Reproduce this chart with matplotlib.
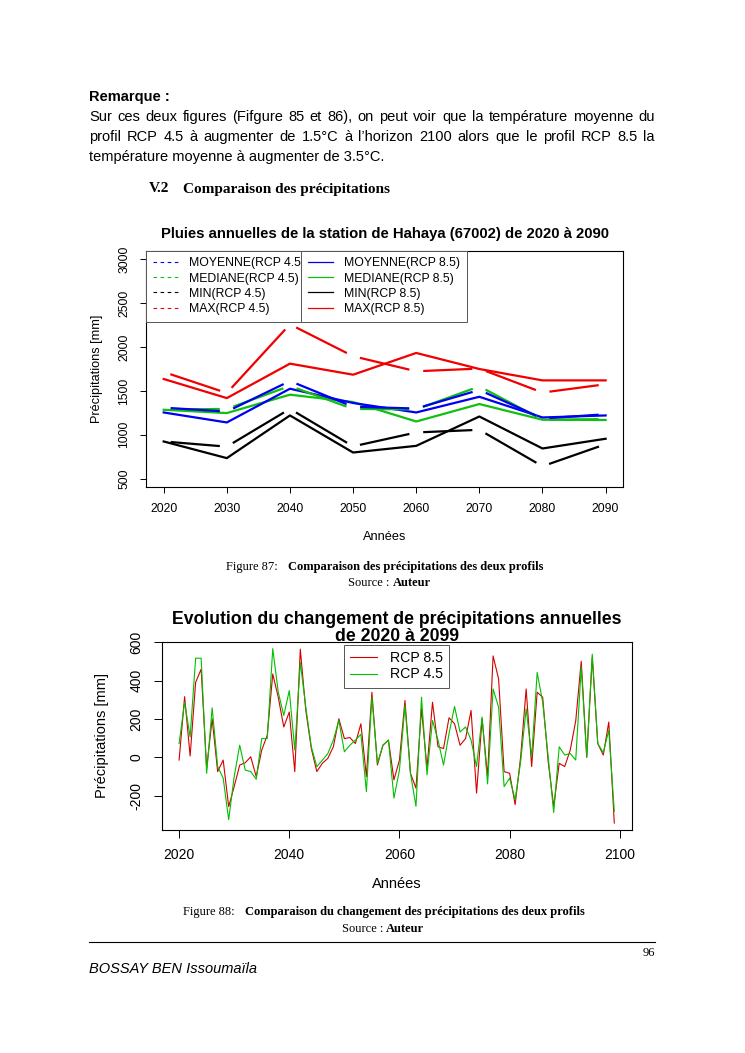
import numpy as np
import matplotlib
matplotlib.use('Agg')
import matplotlib.pyplot as plt
from matplotlib.lines import Line2D

# ---------------- data: chart 1 (decadal) ----------------
years1 = [2020, 2030, 2040, 2050, 2060, 2070, 2080, 2090]
moy45 = [1309, 1264, 1613, 1319, 1299, 1511, 1185, 1234]
med45 = [1289, 1294, 1557, 1294, 1289, 1552, 1171, 1178]
min45 = [923, 864, 1295, 867, 1026, 1056, 640, 892]
max45 = [1716, 1476, 2260, 1896, 1724, 1755, 1481, 1576]
moy85 = [1254, 1140, 1525, 1362, 1254, 1433, 1197, 1220]
med85 = [1285, 1247, 1457, 1373, 1151, 1350, 1171, 1168]
min85 = [923, 733, 1220, 797, 873, 1208, 843, 954]
max85 = [1636, 1418, 1811, 1685, 1933, 1750, 1620, 1620]
yticks1 = [500, 1000, 1500, 2000, 2500, 3000]
labels45 = ['MOYENNE(RCP 4.5', 'MEDIANE(RCP 4.5)', 'MIN(RCP 4.5)', 'MAX(RCP 4.5)']
labels85 = ['MOYENNE(RCP 8.5)', 'MEDIANE(RCP 8.5)', 'MIN(RCP 8.5)', 'MAX(RCP 8.5)']

# ---------------- data: chart 2 (annual change) ----------------
years2 = list(range(2020, 2100))
rcp85 = [-14, 316, 7, 390, 459, -57, 201, -74, -14, -256,
         -152, -40, -28, 3, -100, 38, 115, 434, 313, 158,
         236, -74, 563, 244, 46, -74, -31, -5, 55, 201,
         98, 103, 72, 175, -100, 339, -40, 63, 90, -117,
         -14, 296, -83, -160, 253, -57, 287, 55, 46, 206,
         175, 63, 98, 244, -186, 201, -100, 528, 408, -74,
         -83, -246, 3, 356, -48, 339, 313, -22, -256, -31,
         -48, 38, 190, 500, 0, 520, 72, 12, 184, -342]
rcp45 = [72, 287, 106, 516, 516, -83, 258, -48, -108, -324,
         -100, 63, -66, -74, -114, 98, 98, 566, 339, 218,
         348, 38, 494, 261, 55, -48, -15, 20, 90, 192,
         29, 63, 90, 120, -178, 313, -31, 63, 90, -212,
         -66, 270, -83, -255, 313, -91, 192, 90, -40, 124,
         265, 132, 158, 90, -48, 210, -138, 356, 261, -152,
         -108, -221, -22, 253, 3, 442, 287, 3, -287, 55,
         12, 20, -14, 470, 3, 537, 72, 25, 141, -281]
xticks2 = [2020, 2040, 2060, 2080, 2100]
yticks2 = [-200, 0, 200, 400, 600]

RED1, GREEN1, BLUE1 = '#F00000', '#10C010', '#0000F0'
RED2, GREEN2 = '#D40000', '#00C000'
SANS = 'Liberation Sans'
SERIF = 'Liberation Serif'

W, H = 745, 1053
fig = plt.figure(figsize=(W / 100, H / 100), dpi=100)
fig.patch.set_facecolor('white')


def fx(px):
    return px / W


def fy(py):
    return 1 - py / H


renderer = fig.canvas.get_renderer()


def justify(ypx, text, x0, x1, **kw):
    words = text.split(' ')
    ts = [fig.text(0, fy(ypx), w, va='center', ha='left', **kw) for w in words]
    widths = [t.get_window_extent(renderer).width for t in ts]
    gap = (x1 - x0 - sum(widths)) / (len(words) - 1)
    x = x0
    for t, w in zip(ts, widths):
        t.set_x(fx(x))
        x += w + gap


# ---------------- page text ----------------
fig.text(fx(89), fy(97), 'Remarque :', fontsize=10.5, fontweight='bold', family=SANS, va='center')
justify(117, 'Sur ces deux figures (Fifgure 85 et 86), on peut voir que la température moyenne du',
        89, 655, fontsize=10.5, family=SANS)
justify(137, 'profil RCP 4.5 à augmenter de 1.5°C à l’horizon 2100 alors que le profil RCP 8.5 la',
        89, 655, fontsize=10.5, family=SANS)
fig.text(fx(89), fy(157), 'température moyenne à augmenter de 3.5°C.', fontsize=10.5, family=SANS, va='center')
fig.text(fx(149), fy(189), 'V.2', fontsize=11, fontweight='bold', family=SERIF, va='center')
fig.text(fx(183), fy(189), 'Comparaison des précipitations', fontsize=11, fontweight='bold', family=SERIF, va='center')

fig.text(fx(226), fy(567), 'Figure 87:', fontsize=9, family=SERIF, va='center')
fig.text(fx(288), fy(567), 'Comparaison des précipitations des deux profils', fontsize=9,
         fontweight='bold', family=SERIF, va='center')
fig.text(fx(393), fy(583), 'Source : ', fontsize=9, family=SERIF, va='center', ha='right')
fig.text(fx(393), fy(583), 'Auteur', fontsize=9, fontweight='bold', family=SERIF, va='center', ha='left')

fig.text(fx(183), fy(912), 'Figure 88:', fontsize=9, family=SERIF, va='center')
fig.text(fx(245), fy(912), 'Comparaison du changement des précipitations des deux profils', fontsize=9,
         fontweight='bold', family=SERIF, va='center')
fig.text(fx(386), fy(929), 'Source : ', fontsize=9, family=SERIF, va='center', ha='right')
fig.text(fx(386), fy(929), 'Auteur', fontsize=9, fontweight='bold', family=SERIF, va='center', ha='left')

fig.add_artist(Line2D([fx(89), fx(655)], [fy(942), fy(942)], color='black', lw=0.8))
fig.text(fx(655), fy(953), '96', fontsize=9, family=SERIF, va='center', ha='right')
fig.text(fx(89), fy(969), 'BOSSAY BEN Issoumaïla', fontsize=10.5, style='italic', family=SANS, va='center')

# ---------------- chart 1 ----------------
ax1 = fig.add_axes([fx(146), fy(487.3), (623.3 - 146) / W, (487.3 - 250.7) / H])
ax1.set_xlim(2017.2, 2092.8)
ax1.set_ylim(400, 3100)


def gapped(ax, x, y, gap_px, **kw):
    pts = ax.transData.transform(np.column_stack([x, y]))
    inv = ax.transData.inverted()
    for p0, p1 in zip(pts[:-1], pts[1:]):
        d = p1 - p0
        u = d / np.hypot(*d)
        seg = inv.transform(np.array([p0 + u * gap_px, p1 - u * gap_px]))
        ax.plot(seg[:, 0], seg[:, 1], solid_capstyle='butt', **kw)


LW1 = 1.6
for vals, c in [(max85, RED1), (min85, 'black'), (med85, GREEN1), (moy85, BLUE1)]:
    ax1.plot(years1, vals, color=c, lw=LW1)
for vals, c in [(max45, RED1), (min45, 'black'), (med45, GREEN1), (moy45, BLUE1)]:
    gapped(ax1, years1, vals, 7, color=c, lw=LW1)

for s in ax1.spines.values():
    s.set_linewidth(0.8)
ax1.set_xticks(years1)
ax1.set_yticks(yticks1)
ax1.set_yticklabels([str(v) for v in yticks1], rotation=90, va='center')
ax1.tick_params(axis='both', direction='out', length=4.6, width=0.7, labelsize=8.7, pad=6.5)
for lab in ax1.get_xticklabels() + ax1.get_yticklabels():
    lab.set_family(SANS)
ax1.set_title('Pluies annuelles de la station de Hahaya (67002) de 2020 à 2090', fontsize=10.7,
              fontweight='bold', family=SANS, pad=9.5)
ax1.set_xlabel('Années', fontsize=9.2, family=SANS)
ax1.xaxis.set_label_coords(0.5, -(537 - 487.3) / 236.6)
ax1.xaxis.label.set_va('center')
ax1.set_ylabel('Précipitations [mm]', fontsize=9.2, family=SANS)
ax1.yaxis.set_label_coords((97 - 146) / 477.3, 0.5)
ax1.yaxis.label.set_va('center')

cols = [BLUE1, GREEN1, 'black', RED1]
h45 = [Line2D([], [], color=c, lw=0.8, ls=(0, (3.2, 3.2))) for c in cols]
h85 = [Line2D([], [], color=c, lw=0.9) for c in cols]
legkw = dict(loc='upper left', borderaxespad=0, fancybox=False, framealpha=1, edgecolor='#555555',
             prop={'family': SANS, 'size': 8.8}, handlelength=2.1, handletextpad=0.9,
             labelspacing=0.26, borderpad=0.55)
leg1 = ax1.legend(h45, labels45, bbox_to_anchor=(0, 1), **legkw)
leg1.get_frame().set_linewidth(0.7)
ax1.add_artist(leg1)
leg2 = ax1.legend(h85, labels85, bbox_to_anchor=((301 - 146) / 477.3, 1), **legkw)
leg2.get_frame().set_linewidth(0.7)

# ---------------- chart 2 ----------------
ax2 = fig.add_axes([fx(161.7), fy(830), (631.7 - 161.7) / W, (830 - 641.7) / H])
ax2.set_xlim(2016.84, 2102.16)
ax2.set_ylim(-378, 602)
ax2.plot(years2, rcp85, color=RED2, lw=0.8, label='RCP 8.5')
ax2.plot(years2, rcp45, color=GREEN2, lw=0.8, label='RCP 4.5')
for s in ax2.spines.values():
    s.set_linewidth(0.8)
ax2.set_xticks(xticks2)
ax2.set_yticks(yticks2)
ax2.set_yticklabels([str(v) for v in yticks2], rotation=90, va='center')
ax2.tick_params(axis='both', direction='out', length=6, width=0.7, labelsize=10, pad=7)
for lab in ax2.get_xticklabels() + ax2.get_yticklabels():
    lab.set_family(SANS)
ax2.set_title('Evolution du changement de précipitations annuelles\nde 2020 à 2099', fontsize=12.7,
              fontweight='bold', family=SANS, y=1.0, pad=0.8, linespacing=0.95)
ax2.set_xlabel('Années', fontsize=10.5, family=SANS)
ax2.xaxis.set_label_coords(0.5, -(884 - 830) / 188.3)
ax2.xaxis.label.set_va('center')
ax2.set_ylabel('Précipitations [mm]', fontsize=10.5, family=SANS)
ax2.yaxis.set_label_coords((102 - 161.7) / 470, 0.5)
ax2.yaxis.label.set_va('center')
leg3 = ax2.legend(loc='upper center', bbox_to_anchor=(0.5, 1 - 3.3 / 188.3), borderaxespad=0,
                  fancybox=False, framealpha=1, edgecolor='#555555',
                  prop={'family': SANS, 'size': 10.2}, handlelength=1.9, handletextpad=0.9,
                  labelspacing=0.15, borderpad=0.45)
leg3.get_frame().set_linewidth(0.7)

fig.savefig('out.png', dpi=100, facecolor='white')
